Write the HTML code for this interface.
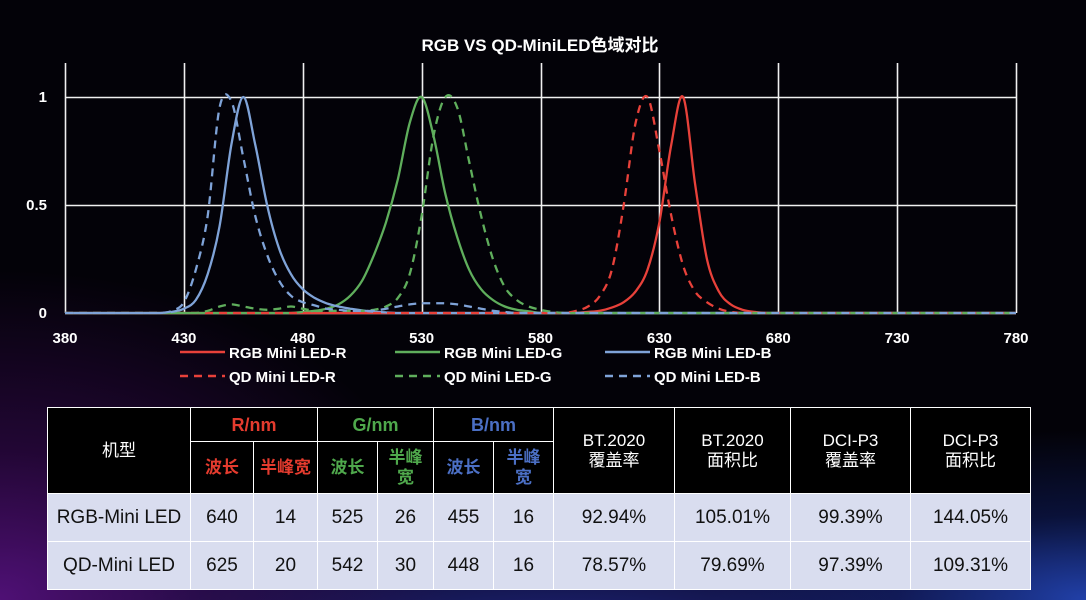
<!DOCTYPE html>
<html><head><meta charset="utf-8">
<style>
html,body{margin:0;padding:0}
body{width:1086px;height:600px;overflow:hidden;position:relative;font-family:"Liberation Sans","Noto Sans CJK SC",sans-serif;
background:radial-gradient(ellipse 460px 330px at 0px 600px,#4f1075 0%,rgba(60,10,90,0.55) 45%,rgba(0,0,0,0) 100%),
radial-gradient(ellipse 380px 170px at 1086px 600px,#2140a8 0%,rgba(20,40,130,0.4) 50%,rgba(0,0,0,0) 100%),
radial-gradient(ellipse 700px 120px at 560px 620px,#1c2070 0%,rgba(0,0,0,0) 100%),#030208}
svg{position:absolute;left:0;top:0}
table{position:absolute;left:47px;top:407px;border-collapse:collapse;font-family:"Liberation Sans","Noto Sans CJK SC",sans-serif}
td{border:1px solid #fff;text-align:center;padding:0;font-size:18px}
thead td{background:#000;color:#fff;font-size:17px;line-height:20px}
tbody td{background:#d9ddef;color:#111;font-size:19px;height:47px}
.r{color:#e43b2e;font-weight:bold}.g{color:#4fa84c;font-weight:bold}.b{color:#4b6fc4;font-weight:bold}
</style></head><body>
<svg id="chart" width="1086" height="400"></svg>
<table>
<thead>
<tr style="height:34px"><td rowspan="2" style="width:142px">机型</td>
<td colspan="2" class="r" style="font-size:18px">R/nm</td>
<td colspan="2" class="g" style="font-size:18px">G/nm</td>
<td colspan="2" class="b" style="font-size:18px">B/nm</td>
<td rowspan="2" style="width:120px">BT.2020<br>覆盖率</td>
<td rowspan="2" style="width:115px">BT.2020<br>面积比</td>
<td rowspan="2" style="width:119px">DCI-P3<br>覆盖率</td>
<td rowspan="2" style="width:119px">DCI-P3<br>面积比</td></tr>
<tr style="height:52px"><td class="r" style="width:62px">波长</td><td class="r" style="width:63px">半峰宽</td>
<td class="g" style="width:59px">波长</td><td class="g" style="width:55px">半峰<br>宽</td>
<td class="b" style="width:59px">波长</td><td class="b" style="width:59px">半峰<br>宽</td></tr>
</thead>
<tbody>
<tr><td>RGB-Mini LED</td><td>640</td><td>14</td><td>525</td><td>26</td><td>455</td><td>16</td><td>92.94%</td><td>105.01%</td><td>99.39%</td><td>144.05%</td></tr>
<tr style="height:45px"><td style="height:44px">QD-Mini LED</td><td>625</td><td>20</td><td>542</td><td>30</td><td>448</td><td>16</td><td>78.57%</td><td>79.69%</td><td>97.39%</td><td>109.31%</td></tr>
</tbody></table>
<script>
const wl=[];for(let w=380;w<=780;w+=5)wl.push(w);
const xTicks=[380,430,480,530,580,630,680,730,780];
const yTicks=[0,0.5,1];
const yTickLabels=["0","0.5","1"];
const rgbR={600:0.005,605:0.01,610:0.025,615:0.05,620:0.1,625:0.2,630:0.42,635:0.78,640:1,645:0.6,650:0.25,655:0.1,660:0.04,665:0.015,670:0.005};
const qdR={595:0.01,600:0.03,605:0.08,610:0.2,615:0.5,620:0.88,625:1,630:0.75,635:0.45,640:0.22,645:0.1,650:0.05,655:0.02,660:0.005};
const rgbG={480:0.005,485:0.01,490:0.02,495:0.04,500:0.08,505:0.15,510:0.27,515:0.42,520:0.62,525:0.88,530:1,535:0.82,540:0.55,545:0.35,550:0.2,555:0.11,560:0.06,565:0.03,570:0.015,575:0.008};
const qdG={440:0.01,445:0.03,450:0.04,455:0.03,460:0.02,465:0.015,470:0.02,475:0.03,480:0.02,485:0.01,490:0.01,495:0.01,500:0.01,505:0.01,510:0.015,515:0.03,520:0.07,525:0.18,530:0.45,535:0.82,540:1,545:0.95,550:0.7,555:0.45,560:0.25,565:0.12,570:0.06,575:0.03,580:0.015,585:0.005};
const rgbB={425:0.005,430:0.02,435:0.06,440:0.18,445:0.4,450:0.78,455:1,460:0.78,465:0.5,470:0.3,475:0.18,480:0.11,485:0.07,490:0.045,495:0.03,500:0.02,505:0.012,510:0.006,515:0.003};
const qdB={425:0.01,430:0.05,435:0.2,440:0.45,445:0.95,450:0.98,455:0.72,460:0.45,465:0.27,470:0.15,475:0.08,480:0.05,485:0.035,490:0.02,495:0.015,500:0.01,505:0.01,510:0.01,515:0.02,520:0.03,525:0.04,530:0.045,535:0.045,540:0.045,545:0.04,550:0.03,555:0.02,560:0.01,565:0.005};
const series=[
{name:"RGB Mini LED-R",d:rgbR,c:"#e8413a",dash:null,id:"rgb-r"},
{name:"RGB Mini LED-G",d:rgbG,c:"#5fae5c",dash:null,id:"rgb-g"},
{name:"RGB Mini LED-B",d:rgbB,c:"#7fa3d8",dash:null,id:"rgb-b"},
{name:"QD Mini LED-R",d:qdR,c:"#e8413a",dash:"8 6",id:"qd-r"},
{name:"QD Mini LED-G",d:qdG,c:"#5fae5c",dash:"8 6",id:"qd-g"},
{name:"QD Mini LED-B",d:qdB,c:"#7fa3d8",dash:"8 6",id:"qd-b"}];
const X=v=>65+(v-380)*(1016-65)/400;
const Y=v=>313-v*216;
const svg=document.getElementById('chart');const NS="http://www.w3.org/2000/svg";
function mk(t,a,p){const e=document.createElementNS(NS,t);for(const k in a)e.setAttribute(k,a[k]);(p||svg).appendChild(e);return e;}
const title=mk('text',{x:540,y:51,'text-anchor':'middle',fill:'#fff','font-size':17,'font-weight':'bold'});
title.textContent="RGB VS QD-MiniLED色域对比";


xTicks.forEach(t=>{const l=mk('line',{x1:Math.round(X(t))+0.5,x2:Math.round(X(t))+0.5,y1:63,y2:313,stroke:'#f0f0f0','stroke-width':1.6});


const tx=mk('text',{x:X(t),y:343,'text-anchor':'middle',fill:'#fff','font-size':15,'font-weight':'bold'});tx.textContent=t;

});
yTicks.forEach((t,i)=>{const l=mk('line',{x1:65,x2:1016,y1:Math.round(Y(t))+0.5,y2:Math.round(Y(t))+0.5,stroke:'#f0f0f0','stroke-width':1.6});


const tx=mk('text',{x:47,y:Y(t)+5,'text-anchor':'end',fill:'#fff','font-size':15,'font-weight':'bold'});tx.textContent=yTickLabels[i];

});
function pathFor(d){const pts=wl.map(w=>[X(w),Y(d[w]||0)]);let s="M"+pts[0][0]+","+pts[0][1];
for(let i=0;i<pts.length-1;i++){const p0=pts[Math.max(0,i-1)],p1=pts[i],p2=pts[i+1],p3=pts[Math.min(pts.length-1,i+2)];
const c1=[p1[0]+(p2[0]-p0[0])/6,Math.min(313,p1[1]+(p2[1]-p0[1])/6)],c2=[p2[0]-(p3[0]-p1[0])/6,Math.min(313,p2[1]-(p3[1]-p1[1])/6)];
s+=`C${c1[0].toFixed(1)},${c1[1].toFixed(1)} ${c2[0].toFixed(1)},${c2[1].toFixed(1)} ${p2[0].toFixed(1)},${p2[1].toFixed(1)}`;}return s;}
series.forEach(s=>{const a={d:pathFor(s.d),fill:'none',stroke:s.c,'stroke-width':2.3};if(s.dash)a['stroke-dasharray']=s.dash;
const p=mk('path',a);

});
const legX=[180,395,605];
series.forEach((s,i)=>{const col=i%3,row=Math.floor(i/3);const x=legX[col],y=352+row*24;
const g=mk('g',{});


const a={x1:x,x2:x+45,y1:y,y2:y,stroke:s.c,'stroke-width':2.4};if(s.dash)a['stroke-dasharray']=s.dash;mk('line',a,g);
const t=mk('text',{x:x+49,y:y+6,fill:'#fff','font-size':15,'font-weight':'bold'},g);t.textContent=s.name;});
</script>
</body></html>
